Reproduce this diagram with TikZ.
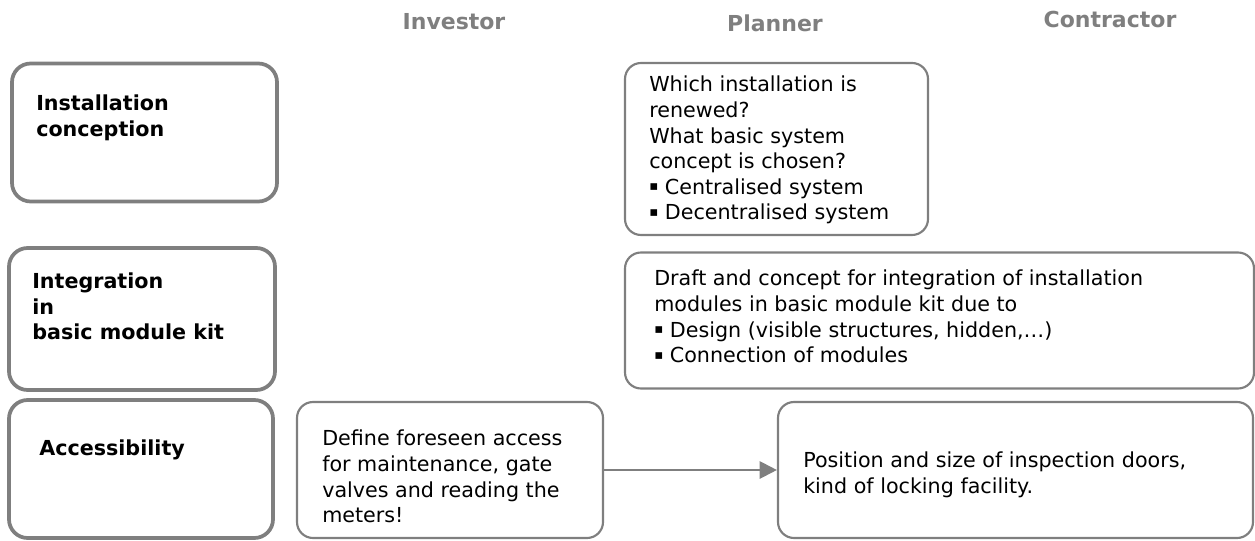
\documentclass[tikz,border=0pt]{standalone}
\usepackage{fontspec}
\setmainfont{DejaVu Sans}
\usetikzlibrary{arrows.meta}
\definecolor{frame}{HTML}{7F7F7F}
\newcommand{\sqbul}{\raisebox{0.3ex}{\fontsize{10}{10}\selectfont ▪}}
\begin{document}
\begin{tikzpicture}[x=0.75pt,y=-0.75pt,
  lbox/.style={draw=frame, line width=2.8pt, rounded corners=14pt, inner sep=0pt},
  cbox/.style={draw=frame, line width=1.6pt, rounded corners=12pt, inner sep=0pt},
  head/.style={font=\bfseries\fontsize{16.5}{19}\selectfont, text=frame, inner sep=0pt, anchor=base},
  ltxt/.style={font=\bfseries\fontsize{15.5}{19}\selectfont, align=left, anchor=north west, inner sep=0pt},
  btxt/.style={font=\fontsize{15.5}{19.2}\selectfont, align=left, anchor=north west, inner sep=0pt},
  conn/.style={draw=frame, line width=1.6pt, -{Triangle[length=13pt,width=13pt]}}
]
\useasboundingbox (0,0) rectangle (1255,541);
% headers
\node[head] (hInv) at (454,30) {Investor};
\node[head] (hPla) at (775,32) {Planner};
\node[head] (hCon) at (1110,28) {Contractor};
% left boxes
\node[lbox, minimum width={265*0.75pt}, minimum height={138*0.75pt}] (b1) at (144.5,132.5) {};
\node[lbox, minimum width={266*0.75pt}, minimum height={142*0.75pt}] (b2) at (142,319) {};
\node[lbox, minimum width={264*0.75pt}, minimum height={138*0.75pt}] (b3) at (141,469) {};
\node[ltxt] (t1) at (36,95) {Installation\\conception};
\node[ltxt] (t2) at (32,273) {Integration\\in\\basic module kit};
\node[ltxt] (t3) at (39,440) {Accessibility};
% content boxes
\node[cbox, minimum width={303*0.75pt}, minimum height={172*0.75pt}] (p1) at (776.5,149) {};
\node[btxt] (p1t) at (649,76) {Which installation is\\renewed?\\What basic system\\concept is chosen?\\\sqbul{} Centralised system\\\sqbul{} Decentralised system};
\node[cbox, minimum width={629*0.75pt}, minimum height={136*0.75pt}] (p2) at (939.5,320.5) {};
\node[btxt] (p2t) at (654,270) {Draft and concept for integration of installation\\modules in basic module kit due to\\\sqbul{} Design (visible structures, hidden,…)\\\sqbul{} Connection of modules};
\node[cbox, minimum width={306*0.75pt}, minimum height={136*0.75pt}] (inv) at (450,470) {};
\node[btxt] (invt) at (322,430) {Define foreseen access\\for maintenance, gate\\valves and reading the\\meters!};
\node[cbox, minimum width={475*0.75pt}, minimum height={136*0.75pt}] (con) at (1015.5,470) {};
\node[btxt] (cont) at (803,452) {Position and size of inspection doors,\\kind of locking facility.};
% connector
\draw[conn] (inv.east) -- (con.west);
\end{tikzpicture}
\end{document}
